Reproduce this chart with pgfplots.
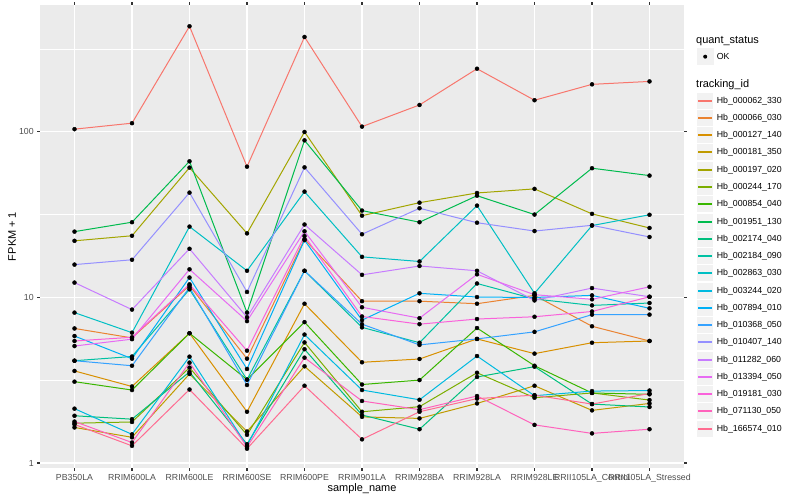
\documentclass[border=0pt]{standalone}
\usepackage{fontspec}
\setmainfont{Liberation Sans}
\usepackage{pgfplots}
\usepackage{pgfplotstable}
\pgfplotsset{compat=1.18}

\definecolor{c1}{HTML}{F8766D}
\definecolor{c2}{HTML}{EA8331}
\definecolor{c3}{HTML}{D89000}
\definecolor{c4}{HTML}{C09B00}
\definecolor{c5}{HTML}{A3A500}
\definecolor{c6}{HTML}{7CAE00}
\definecolor{c7}{HTML}{39B600}
\definecolor{c8}{HTML}{00BB4E}
\definecolor{c9}{HTML}{00BF7D}
\definecolor{c10}{HTML}{00C1A3}
\definecolor{c11}{HTML}{00BFC4}
\definecolor{c12}{HTML}{00BAE0}
\definecolor{c13}{HTML}{00B0F6}
\definecolor{c14}{HTML}{35A2FF}
\definecolor{c15}{HTML}{9590FF}
\definecolor{c16}{HTML}{C77CFF}
\definecolor{c17}{HTML}{E76BF3}
\definecolor{c18}{HTML}{FA62DB}
\definecolor{c19}{HTML}{FF62BC}
\definecolor{c20}{HTML}{FF6C91}
\definecolor{panelbg}{HTML}{EBEBEB}
\definecolor{keybg}{HTML}{F2F2F2}
\definecolor{ticktext}{HTML}{4D4D4D}
\definecolor{tickline}{HTML}{333333}

% rows: categories 0..10 ; columns s1..s20 = series in legend order
\pgfplotstableread{
x s1 s2 s3 s4 s5 s6 s7 s8 s9 s10 s11 s12 s13 s14 s15 s16 s17 s18 s19 s20
0 104 6.5 3.6 1.64 22 1.74 3.1 25 1.93 4.15 8.1 2.13 5.85 4.15 15.8 12.3 5.09 5.46 1.78 1.71
1 113 5.7 2.9 1.43 23.6 1.77 2.76 28.5 1.84 4.4 6.13 1.49 4.27 3.87 16.9 8.45 5.6 5.75 1.33 1.27
2 435 11.8 6.08 3.45 60.9 3.77 6.08 66.5 3.55 11.2 26.8 4.39 13.2 11.5 43 19.7 14.8 12.0 4.04 2.78
3 61.7 4.27 2.04 1.55 24.4 1.48 3.19 8.1 1.3 3.19 14.5 1.27 3.7 2.96 10.8 7.6 7.2 4.77 1.25 1.22
4 375 22.5 9.17 3.84 100 5.35 7.1 89 4.87 14.5 43.6 5.97 22.2 14.5 61.1 27.6 25.1 23.5 4.33 2.93
5 107.7 9.5 4.06 1.9 31.2 2.04 2.98 33.5 1.95 6.6 17.6 2.76 7.3 6.9 24.1 13.7 8.73 7.68 2.37 1.39
6 145.6 9.5 4.25 1.86 37.4 2.19 3.17 28.5 1.6 5.33 16.5 2.41 10.6 5.17 34.6 15.5 7.5 6.9 2.1 2.04
7 241 9.17 5.62 2.29 42.8 3.51 6.54 41.2 3.31 12.15 35.9 4.43 10.06 5.62 28.3 14.5 13.8 7.41 2.54 2.45
8 155.5 10.3 4.58 2.93 45.3 2.48 3.87 31.7 3.82 9.8 10.6 2.55 10.0 6.2 25.2 9.6 10.4 7.65 1.70 2.57
9 194 6.7 5.33 2.08 32 2.65 2.65 60.4 2.27 8.96 27.2 2.72 10.3 7.88 27.3 11.4 9.75 8.23 1.51 2.27
10 202 5.46 5.46 2.29 26.3 2.4 2.6 54.5 2.18 9.26 31.6 2.74 8.6 7.88 23.2 10.1 11.6 10.1 1.6 2.63
}\datatable

\begin{document}
\begin{tikzpicture}[x=1bp,y=1bp]
\useasboundingbox (0,0) rectangle (800,500);
\begin{axis}[
  at={(40bp,32bp)}, anchor=south west,
  scale only axis, width=644bp, height=463bp,
  ymode=log, ymin=0.933, ymax=585,
  xmin=-0.6, xmax=10.6,
  axis background/.style={fill=panelbg},
  axis line style={draw=none},
  xtick={0,...,10},
  xticklabels={PB350LA,RRIM600LA,RRIM600LE,RRIM600SE,RRIM600PE,RRIM901LA,RRIM928BA,RRIM928LA,RRIM928LE,RRII105LA\_Control,RRII105LA\_Stressed},
  ytick={1,10,100}, yticklabels={1,10,100},
  minor ytick={3.1623,31.623,316.23},
  log basis y=10,
  grid=both,
  major grid style={white, line width=1.07bp},
  minor grid style={white, line width=0.53bp},
  tick align=outside,
  major tick length=2.75bp, minor tick length=0pt,
  tick style={tickline, line width=1.07bp},
  xticklabel style={font=\fontsize{8.8}{10}\selectfont, text=ticktext},
  yticklabel style={font=\fontsize{8.8}{10}\selectfont, text=ticktext},
  xlabel={sample\_name}, ylabel={FPKM + 1},
  xlabel style={font=\fontsize{11}{13}\selectfont, at={(axis description cs:0.5,-0.0443)}, anchor=center},
  ylabel style={font=\fontsize{11}{13}\selectfont, at={(axis description cs:-0.0435,0.5)}, anchor=center},
  clip=false,
]
\pgfplotsinvokeforeach{1,...,20}{
  \addplot[color=c#1, line width=1.0bp, no marks] table[x=x, y=s#1]{\datatable};
}
\pgfplotsinvokeforeach{1,...,20}{
  \addplot[only marks, mark=*, mark size=2bp, black] table[x=x, y=s#1]{\datatable};
}
\end{axis}

% legend
\node[anchor=west, font=\fontsize{11}{13}\selectfont, inner sep=0pt] at (696,459.3) {quant\_status};
\fill[keybg] (696.5,434.7) rectangle (713.8,452);
\fill[black] (705.2,443.3) circle (2);
\node[anchor=west, font=\fontsize{8.8}{10}\selectfont, inner sep=0pt] at (716.7,443.3) {OK};
\node[anchor=west, font=\fontsize{11}{13}\selectfont, inner sep=0pt] at (696,415.7) {tracking\_id};
\foreach \lab [count=\i from 1] in {Hb\_000062\_330,Hb\_000066\_030,Hb\_000127\_140,Hb\_000181\_350,Hb\_000197\_020,Hb\_000244\_170,Hb\_000854\_040,Hb\_001951\_130,Hb\_002174\_040,Hb\_002184\_090,Hb\_002863\_030,Hb\_003244\_020,Hb\_007894\_010,Hb\_010368\_050,Hb\_010407\_140,Hb\_011282\_060,Hb\_013394\_050,Hb\_019181\_030,Hb\_071130\_050,Hb\_166574\_010}{
  \pgfmathsetmacro{\yy}{round(500-100.7-17.26*(\i-1))}
  \fill[keybg] (696.5,\yy-8.63) rectangle (713.8,\yy+8.63);
  \draw[white, line width=0.8bp] (696.5,\yy-8.63) rectangle (713.8,\yy+8.63);
  \draw[color=c\i, line width=1.8bp] (698.2,\yy) -- (712.1,\yy);
  \node[anchor=west, font=\fontsize{8.8}{10}\selectfont, inner sep=0pt] at (716.7,\yy) {\lab};
}
\end{tikzpicture}
\end{document}
